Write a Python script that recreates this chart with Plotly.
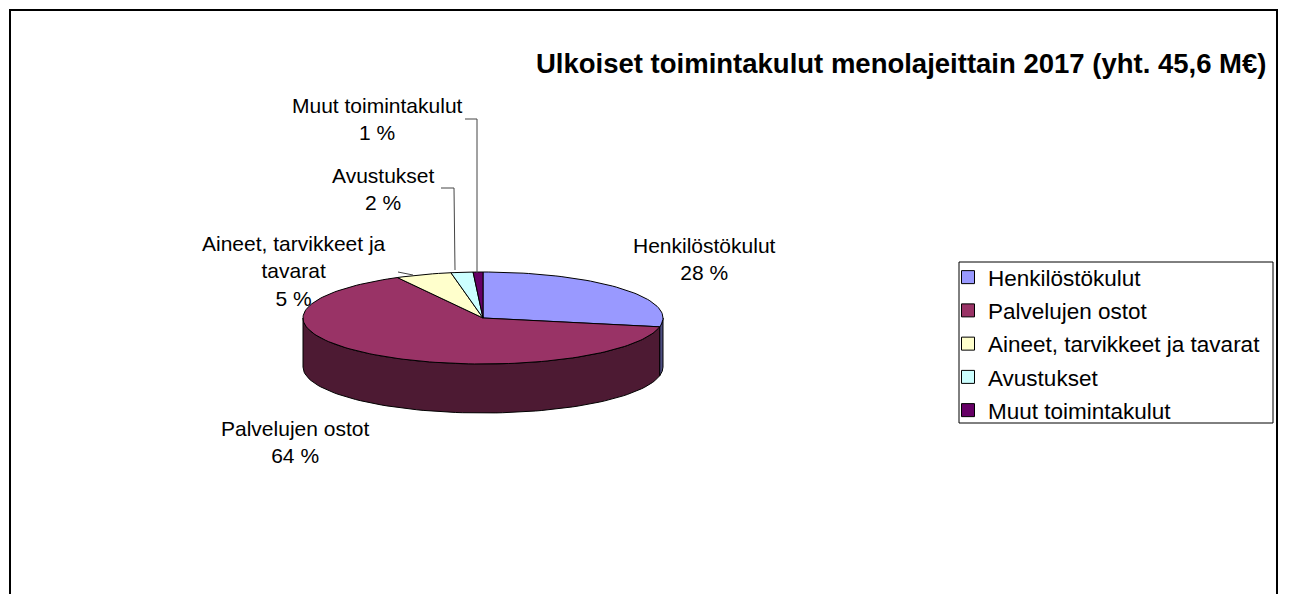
import numpy as np
import plotly.graph_objects as go

# ---- data ----
categories = ["Henkilöstökulut", "Palvelujen ostot", "Aineet, tarvikkeet ja tavarat",
              "Avustukset", "Muut toimintakulut"]
label_text = ["Henkilöstökulut", "Palvelujen ostot", "Aineet, tarvikkeet ja<br>tavarat",
              "Avustukset", "Muut toimintakulut"]
values = [12.8, 29.2, 2.3, 0.9, 0.4]  # M€, total 45.6
top_colors = ["#9999FF", "#993366", "#FFFFCC", "#CCFFFF", "#660066"]
side_colors = ["#4D4D80", "#4D1A33", "#80806A", "#6A8080", "#330033"]
title = "Ulkoiset toimintakulut menolajeittain 2017 (yht. 45,6 M€)"

# ---- layout constants ----
W, H = 1289, 594
OFF = 8  # default page body margin
CX, CY, RX, RY, DEPTH = 483, 318, 180, 46, 49
FONT = "Liberation Sans, Arial, sans-serif"

total = sum(values)
fracs = np.array(values) / total
cum = np.concatenate([[0], np.cumsum(fracs)]) * 2 * np.pi


def px(t):
    return CX + RX * np.sin(t)


def py(t):
    return CY - RY * np.cos(t)


fig = go.Figure()

# side faces (front half only)
for i in range(len(values)):
    a = max(cum[i], np.pi / 2)
    b = min(cum[i + 1], 3 * np.pi / 2)
    if a < b:
        ts = np.linspace(a, b, 80)
        xs = np.concatenate([px(ts), px(ts[::-1]), [px(ts[0])]])
        ys = np.concatenate([py(ts), py(ts[::-1]) + DEPTH, [py(ts[0])]])
        fig.add_trace(go.Scatter(x=xs, y=ys, mode="lines", fill="toself",
                                 fillcolor=side_colors[i],
                                 line=dict(color="black", width=1),
                                 showlegend=False, hoverinfo="skip"))

# top faces
for i in range(len(values)):
    ts = np.linspace(cum[i], cum[i + 1], max(8, int(200 * fracs[i])))
    xs = np.concatenate([[CX], px(ts), [CX]])
    ys = np.concatenate([[CY], py(ts), [CY]])
    fig.add_trace(go.Scatter(x=xs, y=ys, mode="lines", fill="toself",
                             fillcolor=top_colors[i],
                             line=dict(color="black", width=1),
                             name=categories[i], showlegend=False,
                             hoverinfo="text",
                             text=f"{categories[i]}: {values[i]} M€"))

# legend entries
for i in range(len(values)):
    fig.add_trace(go.Scatter(x=[None], y=[None], mode="markers",
                             marker=dict(symbol="square", size=13, color=top_colors[i],
                                         line=dict(color="black", width=1)),
                             name=categories[i], legendgroup=f"g{i}", showlegend=True))

# data labels
label_pos = [(704, 259), (295, 442), (294, 271), (383, 189), (377, 119)]
for i in range(len(values)):
    pct = int(round(fracs[i] * 100))
    fig.add_annotation(x=label_pos[i][0], y=label_pos[i][1], xref="x", yref="y",
                       text=f"{label_text[i]}<br>{pct} %", showarrow=False,
                       align="center", xanchor="center", yanchor="middle",
                       font=dict(family=FONT, size=21, color="black"))

# leader lines
leaders = ["M 465,119 L 477,119 L 477,273",
           "M 441,188 L 454,188 L 455,270",
           "M 398,272 L 413,275"]
for p in leaders:
    fig.add_shape(type="path", path=p, xref="x", yref="y",
                  line=dict(color="#444444", width=1))

# title
fig.add_annotation(x=1268, y=63, xref="x", yref="y", text=f"<b>{title}</b>",
                   showarrow=False, xanchor="right", yanchor="middle",
                   font=dict(family=FONT, size=27.5, color="black"))

# chart border and legend border
fig.add_shape(type="rect", x0=10, x1=1277, y0=10, y1=650, xref="x", yref="y",
              line=dict(color="black", width=2), fillcolor="rgba(0,0,0,0)")
fig.add_shape(type="rect", x0=959, x1=1273, y0=262, y1=423, xref="x", yref="y",
              line=dict(color="black", width=1), fillcolor="rgba(0,0,0,0)")

FW, FH = W - OFF, H - OFF
fig.update_layout(
    width=FW, height=FH, margin=dict(l=0, r=0, t=0, b=0),
    paper_bgcolor="white", plot_bgcolor="white",
    xaxis=dict(range=[OFF, W], visible=False, fixedrange=True),
    yaxis=dict(range=[H, OFF], visible=False, fixedrange=True),
    showlegend=True,
    legend=dict(x=(948 - OFF) / FW, y=1 - (256 - OFF) / FH, xanchor="left", yanchor="top",
                font=dict(family=FONT, size=22.5, color="black"),
                bgcolor="rgba(0,0,0,0)", borderwidth=0, tracegroupgap=1,
                traceorder="grouped"),
)

fig.write_html("out.html")
